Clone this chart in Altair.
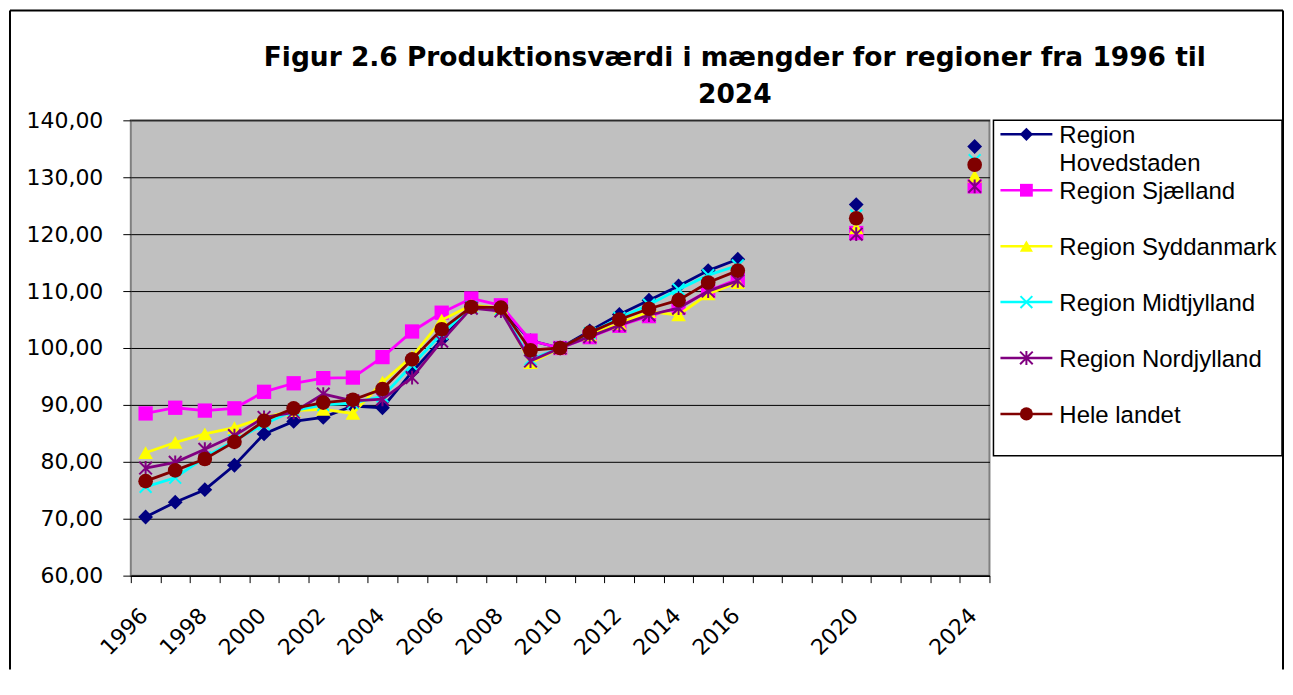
import altair as alt
import pandas as pd

# ---------------- data ----------------
years = ["1996", "1997", "1998", "1999", "2000", "2001", "2002", "2003", "2004",
         "2005", "2006", "2007", "2008", "2009", "2010", "2011", "2012", "2013",
         "2014", "2015", "2016", "2020", "2024"]
# category slots on the axis (Excel category axis, every year 1996-2024)
categories = ["1996", "1997", "1998", "1999", "2000", "2001", "2002", "2003", "2004",
              "2005", "2006", "2007", "2008", "2009", "2010", "2011", "2012", "2013",
              "2014", "2015", "2016", "2017", "2018", "2019", "2020", "2021", "2022",
              "2023", "2024"]
tick_labels = ["1996", "1998", "2000", "2002", "2004", "2006", "2008", "2010",
               "2012", "2014", "2016", "2020", "2024"]
y_ticks = [60, 70, 80, 90, 100, 110, 120, 130, 140]
line_years = years[:21]

series_names = ["Region Hovedstaden", "Region Sjælland", "Region Syddanmark",
                "Region Midtjylland", "Region Nordjylland", "Hele landet"]
legend_labels = ["Region\nHovedstaden", "Region Sjælland", "Region Syddanmark",
                 "Region Midtjylland", "Region Nordjylland", "Hele landet"]

hovedstaden = [70.3, 72.9, 75.1, 79.4, 84.9, 87.1, 87.8, 89.8, 89.5, 95.8, 101.5,
               107.3, 107.0, 101.3, 100.0, 103.0, 105.9, 108.4, 110.9, 113.6, 115.6,
               125.2, 135.4]
sjaelland = [88.5, 89.5, 89.0, 89.4, 92.3, 93.8, 94.7, 94.8, 98.4, 102.9, 106.2,
             108.7, 107.5, 101.3, 100.0, 101.9, 103.9, 105.6, 107.1, 110.0, 112.1,
             120.2, 128.4]
syddanmark = [81.6, 83.4, 84.9, 86.0, 87.8, 89.0, 89.2, 88.5, 94.0, 98.5, 104.9,
              107.5, 107.0, 97.4, 100.0, 102.3, 104.3, 106.4, 105.8, 109.5, 111.5,
              121.1, 130.2]
midtjylland = [75.6, 77.2, 80.8, 83.7, 86.6, 89.0, 90.0, 90.3, 91.5, 97.0, 102.5,
               107.2, 106.8, 98.0, 100.0, 102.6, 105.3, 107.6, 110.3, 112.8, 114.5,
               123.3, 133.0]
nordjylland = [78.9, 79.9, 82.2, 84.6, 87.8, 88.7, 91.9, 90.7, 91.0, 94.8, 101.2,
               107.0, 106.5, 97.7, 100.0, 102.0, 104.0, 105.8, 107.0, 110.0, 111.8,
               120.0, 128.4]
hele_landet = [76.6, 78.5, 80.5, 83.5, 87.2, 89.4, 90.4, 90.9, 92.8, 98.0, 103.3,
               107.2, 107.1, 99.6, 100.0, 102.7, 105.0, 106.9, 108.4, 111.5, 113.6,
               122.8, 132.2]
series_values = [hovedstaden, sjaelland, syddanmark, midtjylland, nordjylland, hele_landet]

# ---------------- styles ----------------
colors = ["#000080", "#FF00FF", "#FFFF00", "#00FFFF", "#800080", "#800000"]
X_PATH = "M-1,-1L1,1M-1,1L1,-1"
STAR_PATH = "M-1,-1L1,1M-1,1L1,-1M0,-1.1L0,1.1"
shapes = ["diamond", "square", "triangle-up", X_PATH, STAR_PATH, "circle"]
filled = [True, True, True, False, False, True]
sizes = [220, 205, 215, 140, 160, 215]
FONT = "Liberation Sans"
AXFONT = "DejaVu Sans"

label_expr = "indexof([" + ",".join("'%s'" % t for t in tick_labels) + "], datum.value) >= 0 ? datum.value : ''"

x_enc = alt.X(
    "year:O",
    scale=alt.Scale(type="band", domain=categories, paddingInner=0, paddingOuter=0),
    bandPosition=0.5,
    title=None,
    axis=alt.Axis(
        values=categories, labelExpr=label_expr, labelAngle=-45, labelAlign="right",
        labelBaseline="middle", labelFontSize=22, labelColor="black", labelFont=AXFONT,
        tickBand="extent", tickSize=7, tickColor="black", tickWidth=1,
        domainColor="black", domainWidth=1.5, labelPadding=29, labelOffset=-2,
        labelOverlap=False, labelFlush=False, grid=False, labelBound=False,
    ),
)
y_enc = alt.Y(
    "value:Q",
    scale=alt.Scale(domain=[60, 140], nice=False, zero=False),
    title=None,
    axis=alt.Axis(
        values=y_ticks, labelExpr="replace(format(datum.value, '.2f'), '.', ',')",
        tickSize=8, tickColor="black", labelPadding=20, domain=False, grid=True,
        gridColor="black", gridWidth=1, labelFontSize=22, labelColor="black",
        labelFont=AXFONT,
    ),
)

layers = []
# outer frame of the figure (decorative)
frame_src = pd.DataFrame({"k": [0]})
layers.append(alt.Chart(frame_src).mark_rule(color="black", strokeWidth=2).encode(
    x=alt.value(-121), y=alt.value(-110), y2=alt.value(550)))
layers.append(alt.Chart(frame_src).mark_rule(color="black", strokeWidth=2).encode(
    x=alt.value(-121), x2=alt.value(1154), y=alt.value(-110)))
layers.append(alt.Chart(frame_src).mark_rule(color="black", strokeWidth=2).encode(
    x=alt.value(1154), y=alt.value(-110), y2=alt.value(550)))

for name, vals, col, shp, fil, sz in zip(series_names, series_values, colors, shapes, filled, sizes):
    df = pd.DataFrame({"year": years, "value": vals, "series": name})
    df_line = df[df["year"].isin(line_years)]
    layers.append(alt.Chart(df_line).mark_line(color=col, strokeWidth=2.8).encode(x=x_enc, y=y_enc))
    if fil:
        pt = alt.Chart(df).mark_point(shape=shp, filled=True, size=sz, color=col, opacity=1)
    else:
        pt = alt.Chart(df).mark_point(shape=shp, filled=False, size=sz, color=col,
                                      strokeWidth=2, opacity=1)
    layers.append(pt.encode(x=x_enc, y=y_enc))

main = alt.layer(*layers).properties(
    width=860, height=456,
    view=alt.ViewBackground(fill="#C0C0C0", stroke="#808080", strokeWidth=2),
)

# ---------------- legend panel ----------------
leg_scale = alt.Scale(type="point", domain=series_names, range=[14, 294], padding=0)
leg_layers = []
for name, lab, col, shp, fil, sz in zip(series_names, legend_labels, colors, shapes, filled, sizes):
    ldf = pd.DataFrame({"series": [name], "label": [lab]})
    ly = alt.Y("series:N", scale=leg_scale, axis=None, title=None)
    leg_layers.append(alt.Chart(ldf).mark_rule(color=col, strokeWidth=2.5).encode(
        x=alt.value(7), x2=alt.value(59), y=ly))
    if fil:
        lp = alt.Chart(ldf).mark_point(shape=shp, filled=True, size=sz * 0.8, color=col, opacity=1)
    else:
        lp = alt.Chart(ldf).mark_point(shape=shp, filled=False, size=sz, color=col,
                                       strokeWidth=2, opacity=1)
    leg_layers.append(lp.encode(x=alt.value(33), y=ly))
    leg_layers.append(alt.Chart(ldf).mark_text(
        align="left", baseline="alphabetic", dy=9, fontSize=24, font=FONT,
        lineBreak="\n", lineHeight=28, color="black").encode(
        x=alt.value(66), y=ly, text="label:N"))

legend = alt.layer(*leg_layers).properties(
    width=289, height=336,
    view=alt.ViewBackground(fill="white", stroke="black", strokeWidth=1.5),
)

chart = alt.hconcat(main, legend, spacing=4, bounds="flush").properties(
    padding=0,
    title=alt.TitleParams(
        text=["Figur 2.6 Produktionsværdi i mængder for regioner fra 1996 til", "2024"],
        fontSize=26.5, fontWeight="bold", font=AXFONT, anchor="start", align="center",
        frame="group", dx=605, baseline="top", lineHeight=37, offset=-100, color="black",
    ),
).configure(font=FONT, background="white")

chart.save("out.html", embed_options={"renderer": "svg", "actions": False})
